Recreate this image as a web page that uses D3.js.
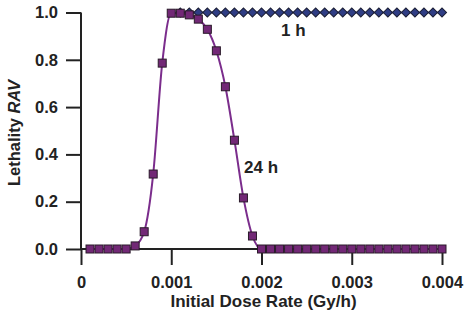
<!DOCTYPE html>
<html>
<head>
<meta charset="utf-8">
<script src="https://cdn.jsdelivr.net/npm/d3@7"></script>
<style>
  body { margin: 0; background: #fff; }
  svg text { font-family: "Liberation Sans", Arial, sans-serif; font-weight: bold; fill: #222; }
  .axis text { font-size: 16.5px; fill: #222; }
  .axis line, .axis path { stroke: #222; stroke-width: 2px; }
</style>
</head>
<body>
<svg id="chart" width="470" height="317"></svg>
<script>
// dose rates (Gy/h)
var doses24 = [0.0001, 0.0002, 0.0003, 0.0004, 0.0005, 0.0006, 0.0007, 0.0008, 0.0009, 0.0010,
  0.0011, 0.0012, 0.0013, 0.0014, 0.0015, 0.0016, 0.0017, 0.0018, 0.0019, 0.0020,
  0.0021, 0.0022, 0.0023, 0.0024, 0.0025, 0.0026, 0.0027, 0.0028, 0.0029, 0.0030,
  0.0031, 0.0032, 0.0033, 0.0034, 0.0035, 0.0036, 0.0037, 0.0038, 0.0039, 0.0040];
var lethality24 = [0, 0, 0, 0, 0, 0.013, 0.073, 0.317, 0.786, 0.997,
  0.997, 0.99, 0.972, 0.929, 0.838, 0.686, 0.46, 0.216, 0.055, 0,
  0, 0, 0, 0, 0, 0, 0, 0, 0, 0,
  0, 0, 0, 0, 0, 0, 0, 0, 0, 0];
var doses1 = [0.0011, 0.0012, 0.0013, 0.0014, 0.0015, 0.0016, 0.0017, 0.0018, 0.0019, 0.0020,
  0.0021, 0.0022, 0.0023, 0.0024, 0.0025, 0.0026, 0.0027, 0.0028, 0.0029, 0.0030,
  0.0031, 0.0032, 0.0033, 0.0034, 0.0035, 0.0036, 0.0037, 0.0038, 0.0039, 0.0040];
var lethality1 = [1, 1, 1, 1, 1, 1, 1, 1, 1, 1,
  1, 1, 1, 1, 1, 1, 1, 1, 1, 1,
  1, 1, 1, 1, 1, 1, 1, 1, 1, 1];
var xTicks = [0, 0.001, 0.002, 0.003, 0.004];
var yTicks = [0, 0.2, 0.4, 0.6, 0.8, 1.0];

var svg = d3.select("#chart");
var x = d3.scaleLinear().domain([0, 0.004]).range([81, 442]);
var y = d3.scaleLinear().domain([0, 1]).range([249, 12.5]);

var xAxis = d3.axisBottom(x).tickValues(xTicks).tickSize(16).tickSizeOuter(0).tickPadding(11)
  .tickFormat(function (d) { return d === 0 ? "0" : d3.format(".3f")(d); });
var yAxis = d3.axisLeft(y).tickValues(yTicks).tickSize(15).tickSizeOuter(0).tickPadding(8)
  .tickFormat(d3.format(".1f"));

var gx = svg.append("g").attr("class", "axis").attr("transform", "translate(0," + y(0) + ")").call(xAxis);
var gy = svg.append("g").attr("class", "axis").attr("transform", "translate(" + x(0) + ",0)").call(yAxis);
gx.select(".domain").attr("d", "M" + x(0) + ",0H" + x(0.004));
gy.select(".domain").attr("d", "M0," + y(1) + "V" + y(0));

// axis titles
svg.append("text").attr("x", 263.5).attr("y", 306.5).attr("text-anchor", "middle")
  .attr("font-size", 17).text("Initial Dose Rate (Gy/h)");
var yt = svg.append("text").attr("transform", "translate(19.5,133) rotate(-90)")
  .attr("text-anchor", "middle").attr("font-size", 16.5);
yt.append("tspan").text("Lethality ");
yt.append("tspan").attr("font-style", "italic").text("RAV");

var d1 = doses1.map(function (d, i) { return [d, lethality1[i]]; });
var d24 = doses24.map(function (d, i) { return [d, lethality24[i]]; });
var line = d3.line().x(function (d) { return x(d[0]); }).y(function (d) { return y(d[1]); });

// 1 h series
svg.append("path").datum(d1).attr("fill", "none").attr("stroke", "#2a3570")
  .attr("stroke-width", 1.5).attr("d", line);
svg.selectAll(".dia").data(d1).enter().append("path").attr("class", "dia")
  .attr("transform", function (d) { return "translate(" + x(d[0]) + "," + y(d[1]) + ") rotate(45)"; })
  .attr("d", "M-3.2,-3.2H3.2V3.2H-3.2Z").attr("fill", "#2f3d84").attr("stroke", "#1a1d33").attr("stroke-width", 1);

// 24 h series
svg.append("path").datum(d24).attr("fill", "none").attr("stroke", "#7b2d8c")
  .attr("stroke-width", 2).attr("d", line.curve(d3.curveMonotoneX));
svg.selectAll(".sq").data(d24).enter().append("rect").attr("class", "sq")
  .attr("x", function (d) { return x(d[0]) - 4; }).attr("y", function (d) { return y(d[1]) - 4; })
  .attr("width", 8).attr("height", 8).attr("fill", "#722876").attr("stroke", "#2a1a2a").attr("stroke-width", 1);

svg.append("text").attr("x", 281).attr("y", 36).attr("font-size", 17).text("1 h");
svg.append("text").attr("x", 244).attr("y", 173).attr("font-size", 17).text("24 h");
</script>
</body>
</html>
